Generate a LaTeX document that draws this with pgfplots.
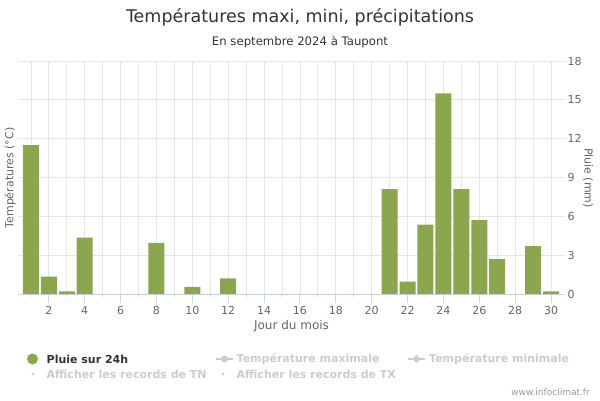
\documentclass[border=0pt]{standalone}
\usepackage{pgfplots}
\pgfplotsset{compat=1.18}
\usepackage{fontspec}
\setmainfont{DejaVu Sans}
\definecolor{barc}{RGB}{139,166,77}
\definecolor{gridc}{RGB}{230,230,230}
\definecolor{axc}{RGB}{204,214,235}
\definecolor{txt}{RGB}{102,102,102}
\definecolor{ttl}{RGB}{51,51,51}
\definecolor{lg}{RGB}{204,204,204}
\definecolor{credit}{RGB}{153,153,153}
\begin{document}
\begin{tikzpicture}[x=1pt,y=1pt]
\path[use as bounding box, fill=white] (0,0) rectangle (600,400);
\node[font=\fontsize{17.5}{20}\selectfont, text=ttl] at (300,383) {Températures maxi, mini, précipitations};
\node[font=\fontsize{11.7}{14}\selectfont, text=ttl] at (300,358) {En septembre 2024 à Taupont};
\begin{axis}[at={(18pt,106pt)}, anchor=south west, scale only axis,
  width=547pt, height=233pt,
  xmin=0.28, xmax=30.78, ymin=0, ymax=18,
  ytick={0,3,...,18}, xtick={2,4,...,30}, minor xtick={1,...,30},
  grid=both, major grid style={gridc, line width=0.8pt}, minor grid style={gridc, line width=0.8pt},
  axis x line*=bottom, axis y line*=right,
  x axis line style={axc, line width=1pt, -},
  y axis line style={draw=none},
  xtick style={axc, line width=1pt}, major tick length=8.5pt,
  xtick pos=bottom, xtick align=outside,
  ytick style={draw=none},
  /pgf/number format/assume math mode=true,
  tick label style={font=\fontsize{11}{13}\selectfont, text=txt},
  xticklabel style={yshift=0pt},
  yticklabel style={anchor=west, xshift=-1pt},
  xlabel={Jour du mois}, xlabel style={font=\fontsize{12}{14}\selectfont, text=txt, yshift=1pt},
  ybar, bar width=16pt,
  clip=false,
]
\addplot[fill=barc, draw=none] coordinates {
(1,11.5) (2,1.35) (3,0.2) (4,4.35) (5,0) (6,0) (7,0) (8,3.95) (9,0) (10,0.55)
(11,0) (12,1.2) (13,0) (14,0) (15,0) (16,0) (17,0) (18,0) (19,0) (20,0)
(21,8.1) (22,0.95) (23,5.35) (24,15.5) (25,8.1) (26,5.7) (27,2.7) (28,0) (29,3.7) (30,0.2)};
\end{axis}
\node[rotate=90, font=\fontsize{11}{14}\selectfont, text=txt] at (10,222) {Températures (°C)};
\node[rotate=-90, font=\fontsize{11}{14}\selectfont, text=txt] at (588,222) {Pluie (mm)};
% legend
\fill[barc] (32.5,41) circle (5.5pt);
\node[anchor=west, font=\bfseries\fontsize{11}{14}\selectfont, text=ttl, inner sep=0pt] at (46.5,41) {Pluie sur 24h};
\draw[lg, line width=2pt] (216,41) -- (233,41);
\fill[lg] (224.5,41) circle (3.5pt);
\node[anchor=west, font=\bfseries\fontsize{11}{14}\selectfont, text=lg, inner sep=0pt] at (236.5,41) {Température maximale};
\draw[lg, line width=2pt] (408,41) -- (425,41);
\fill[lg] (416.5,45) -- (420.5,41) -- (416.5,37) -- (412.5,41) -- cycle;
\node[anchor=west, font=\bfseries\fontsize{11}{14}\selectfont, text=lg, inner sep=0pt] at (429,41) {Température minimale};
\fill[lg] (33,26) circle (1.5pt);
\node[anchor=west, font=\bfseries\fontsize{11}{14}\selectfont, text=lg, inner sep=0pt] at (46.5,26) {Afficher les records de TN};
\fill[lg] (223,26) circle (1.5pt);
\node[anchor=west, font=\bfseries\fontsize{11}{14}\selectfont, text=lg, inner sep=0pt] at (236.5,26) {Afficher les records de TX};
\node[anchor=east, font=\fontsize{9}{10}\selectfont, text=credit, inner sep=0pt] at (590,8) {www.infoclimat.fr};
\end{tikzpicture}
\end{document}
